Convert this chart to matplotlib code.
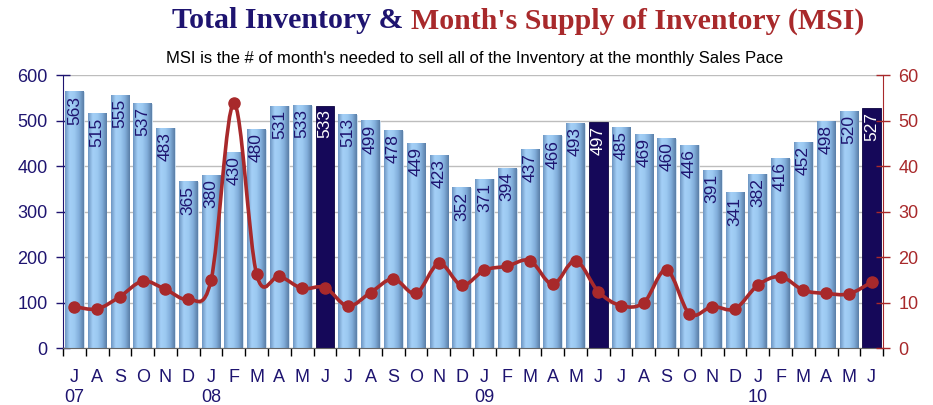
import numpy as np
import matplotlib.pyplot as plt
from matplotlib.path import Path
from matplotlib.patches import PathPatch
from matplotlib.colors import LinearSegmentedColormap

# Jul 2007 .. Jun 2010
months = list("JASONDJFMAMJ") * 3
year_labels = {0: "07", 6: "08", 18: "09", 30: "10"}
inventory = [563, 515, 555, 537, 483, 365, 380, 430, 480, 531, 533, 533,
             513, 499, 478, 449, 423, 352, 371, 394, 437, 466, 493, 497,
             485, 469, 460, 446, 391, 341, 382, 416, 452, 498, 520, 527]
msi = [9.1, 8.6, 11.3, 14.7, 12.9, 10.7, 14.9, 53.8, 16.2, 15.8, 13.1, 13.3,
       9.2, 12.2, 15.2, 12.0, 18.6, 13.8, 17.1, 18.0, 19.2, 14.0, 19.2, 12.4,
       9.3, 10.0, 17.2, 7.5, 9.1, 8.6, 13.8, 15.7, 12.7, 12.0, 11.9, 14.5]
highlight = [11, 23, 35]  # June bars

navy = "#1E1470"
red = "#A8292B"

plt.rcParams['font.family'] = ['Liberation Sans', 'DejaVu Sans']

fig = plt.figure(figsize=(9.33, 4.05), dpi=100)
ax = fig.add_axes([0.0675, 0.1407, 0.879, 0.674])
ax2 = ax.twinx()

x = np.arange(len(inventory))
bar_cmap = LinearSegmentedColormap.from_list(
    "bar", ["#6E96C2", "#A4D0F7", "#9CC9F1", "#82AEDB", "#5A7EA7"])
grad = np.linspace(0, 1, 64).reshape(1, -1)
bars = ax.bar(x, inventory, width=0.82, color="none", zorder=2)
for i, b in enumerate(bars):
    if i in highlight:
        b.set_facecolor("#150859")
        b.set_edgecolor("#0C0440")
        b.set_linewidth(0.6)
    else:
        ax.imshow(grad, extent=[b.get_x(), b.get_x() + b.get_width(), 0, b.get_height()],
                  aspect="auto", cmap=bar_cmap, zorder=2, interpolation="bilinear")
        b.set_edgecolor("#C9DDF0")
        b.set_linewidth(0.6)
    ax.text(i, inventory[i] - 8, str(inventory[i]), rotation=90, ha="center", va="top",
            fontsize=12.5, color="white" if i in highlight else navy, zorder=3)

ax.set_xlim(-0.5, len(inventory) - 0.5)
ax.set_ylim(0, 600)
ax.set_yticks(range(0, 601, 100))
ax.grid(axis="y", color="#BDBDBD", linewidth=1, zorder=0)
ax.set_axisbelow(True)

ax.set_xticks(x)
ax.set_xticklabels(months, color=navy, fontsize=13)
ax.tick_params(axis="x", which="major", length=0, pad=15)
ax.set_xticks(np.arange(-0.5, len(inventory), 1), minor=True)
ax.tick_params(axis="x", which="minor", length=6, direction="out", color="black", width=1)
for i, yr in year_labels.items():
    ax.text(i, -0.18, yr, transform=ax.get_xaxis_transform(), ha="center", va="center",
            fontsize=13, color=navy)

ax.tick_params(axis="y", direction="inout", length=10, color=navy, labelcolor=navy,
               labelsize=13, pad=6, width=1)
ax.spines["left"].set_color(navy)
ax.spines["bottom"].set_color("#666666")
for s in ["top", "right"]:
    ax.spines[s].set_visible(False)

# MSI line, smoothed as in the original spreadsheet chart
pts = np.column_stack([x, msi])
verts = [tuple(pts[0])]
codes = [Path.MOVETO]
n = len(pts)
for i in range(n - 1):
    p0 = pts[max(i - 1, 0)]
    p1 = pts[i]
    p2 = pts[i + 1]
    p3 = pts[min(i + 2, n - 1)]
    verts += [tuple(p1 + (p2 - p0) / 6), tuple(p2 - (p3 - p1) / 6), tuple(p2)]
    codes += [Path.CURVE4] * 3
ax2.add_patch(PathPatch(Path(verts, codes), facecolor="none", edgecolor=red,
                        linewidth=2.6, zorder=4))
ax2.plot(x, msi, linestyle="none", marker="o", markersize=8, color=red, zorder=5)
ax2.set_ylim(0, 60)
ax2.set_yticks(range(0, 61, 10))
ax2.tick_params(axis="y", direction="inout", length=10, color=red, labelcolor=red,
                labelsize=13, pad=6, width=1)
ax2.spines["right"].set_color(red)
for s in ["top", "left", "bottom"]:
    ax2.spines[s].set_visible(False)

fig.text(403 / 933, 1 - 21 / 405, "Total Inventory &", ha="right", va="center",
         family="Liberation Serif", weight="bold", fontsize=21.5, color=navy)
fig.text(411 / 933, 1 - 21 / 405, "Month's Supply of Inventory (MSI)", ha="left",
         va="center", family="Liberation Serif", weight="bold", fontsize=21.5, color=red)
fig.text(475 / 933, 1 - 58 / 405,
         "MSI is the # of month's needed to sell all of the Inventory at the monthly Sales Pace",
         ha="center", va="center", fontsize=12, color="black")

fig.savefig("out.png", dpi=100)
